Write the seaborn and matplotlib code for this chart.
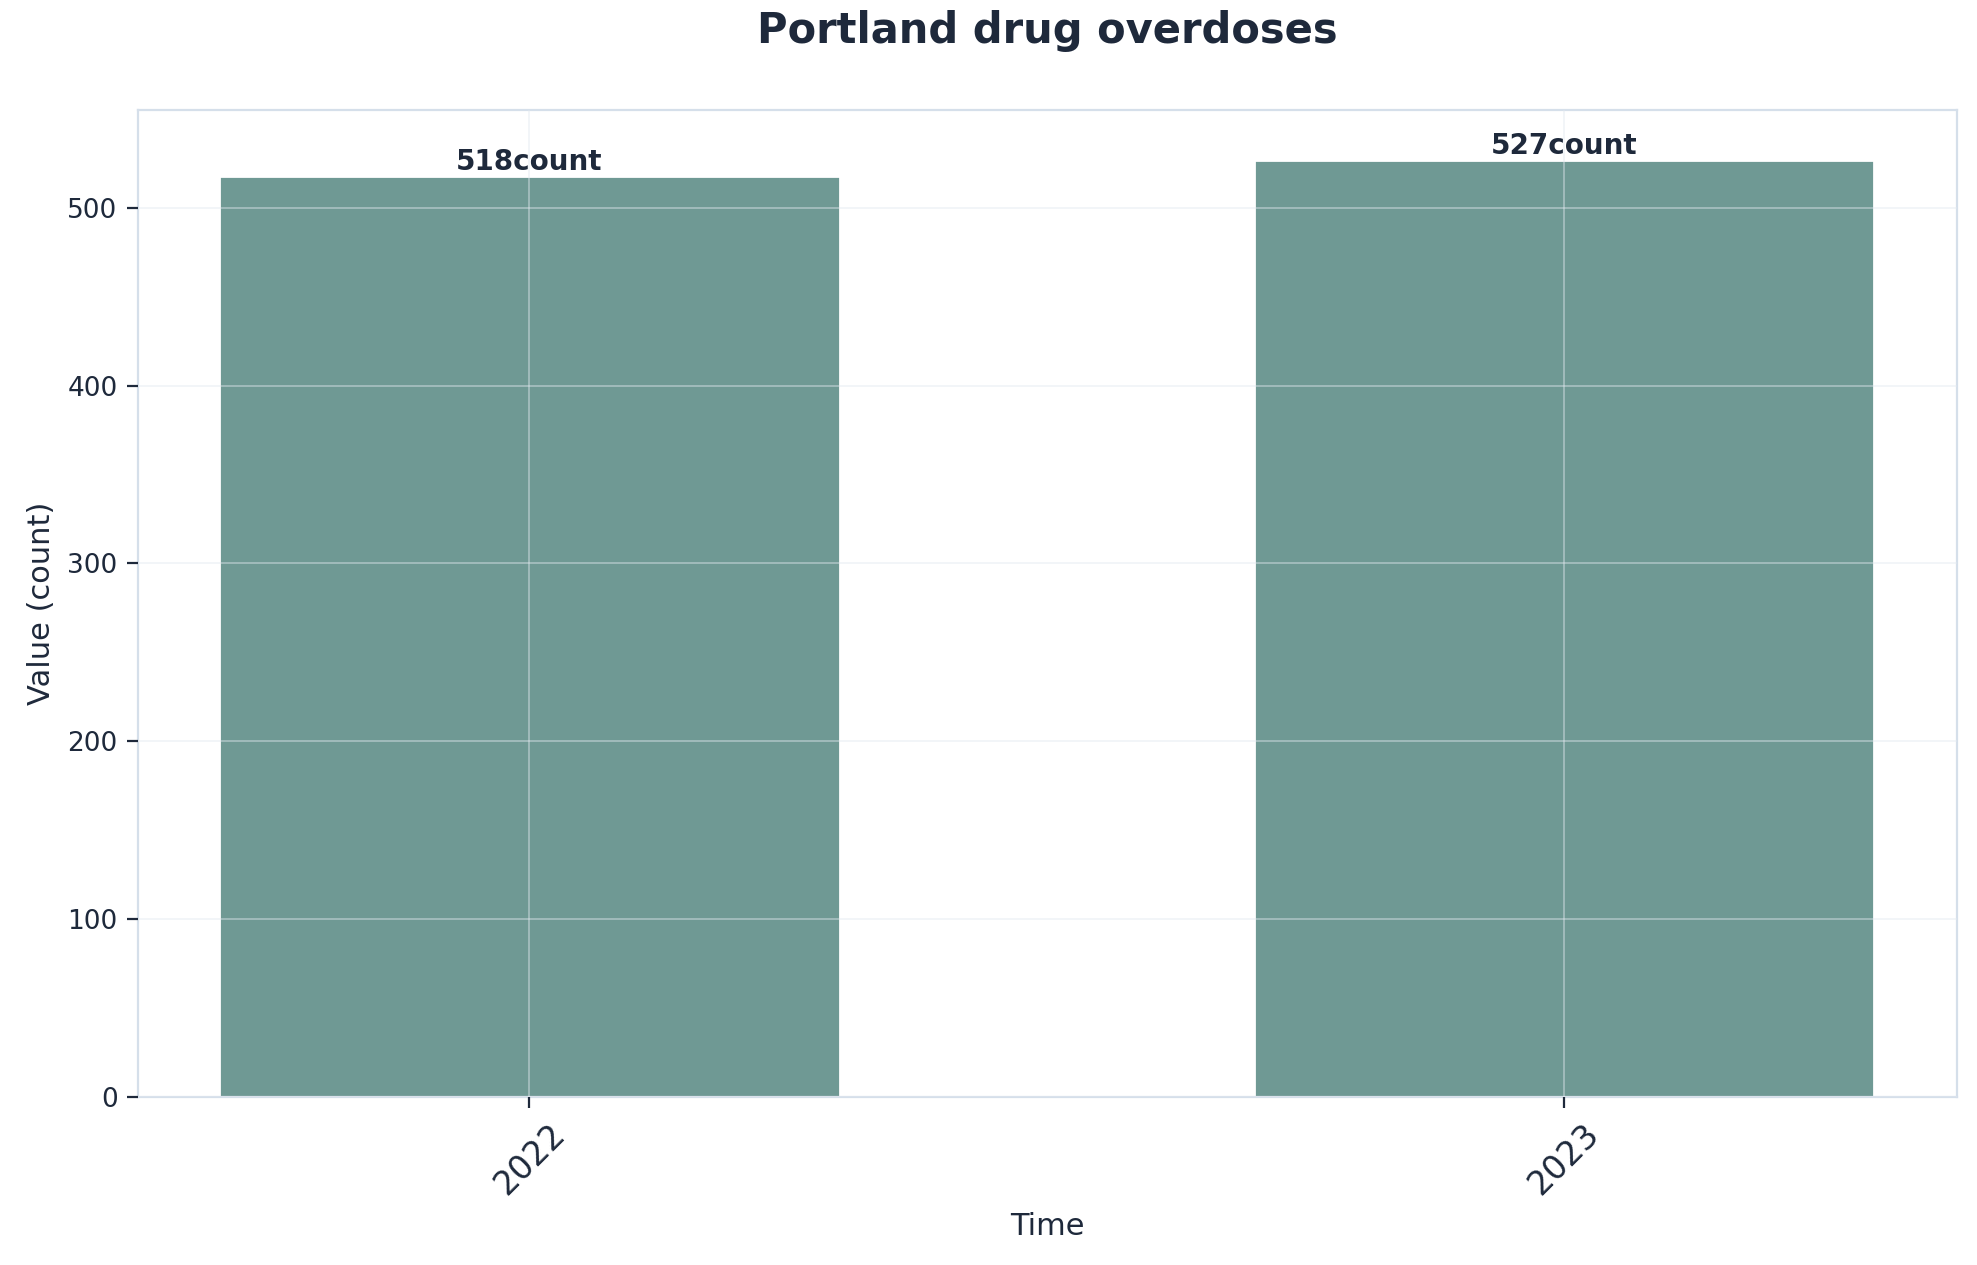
import matplotlib
matplotlib.use("Agg")
import matplotlib.pyplot as plt
import seaborn as sns
import pandas as pd

years = ["2022", "2023"]
values = [518, 527]
unit = "count"

sns.set_theme(style="white")
plt.rcParams['font.family'] = ['DejaVu Sans']
txt = "#1e293b"

df = pd.DataFrame({"Time": years, "Value": values})
fig = plt.figure(figsize=(9.885, 6.325), dpi=200)
ax = fig.add_axes([0.07, 0.133, 0.92, 0.78])
sns.barplot(data=df, x="Time", y="Value", color="#6f9994", saturation=1, width=0.6, ax=ax)
ax.set_ylim(0, 555)
ax.set_xlim(-0.378, 1.38)
ax.set_axisbelow(False)
ax.grid(True, color="#e2e8f0", alpha=0.5, linewidth=0.6)
for s in ax.spines.values():
    s.set_color("#d5dfea")
    s.set_linewidth(0.8)
for i, v in enumerate(values):
    ax.text(i, v, f"{v}{unit}", ha="center", va="bottom", fontweight="bold", fontsize=10, color=txt)
ax.set_title("Portland drug overdoses", fontsize=15, fontweight="bold", color=txt, pad=24)
ax.set_xlabel("Time", fontsize=11, color=txt)
ax.set_ylabel("Value (count)", fontsize=11, color=txt)
ax.tick_params(axis="x", labelsize=12, colors=txt, rotation=45, length=4, width=0.8, bottom=True)
ax.tick_params(axis="y", labelsize=9.5, colors=txt, length=4, width=0.8, left=True)
fig.savefig("out.png", dpi=200)
